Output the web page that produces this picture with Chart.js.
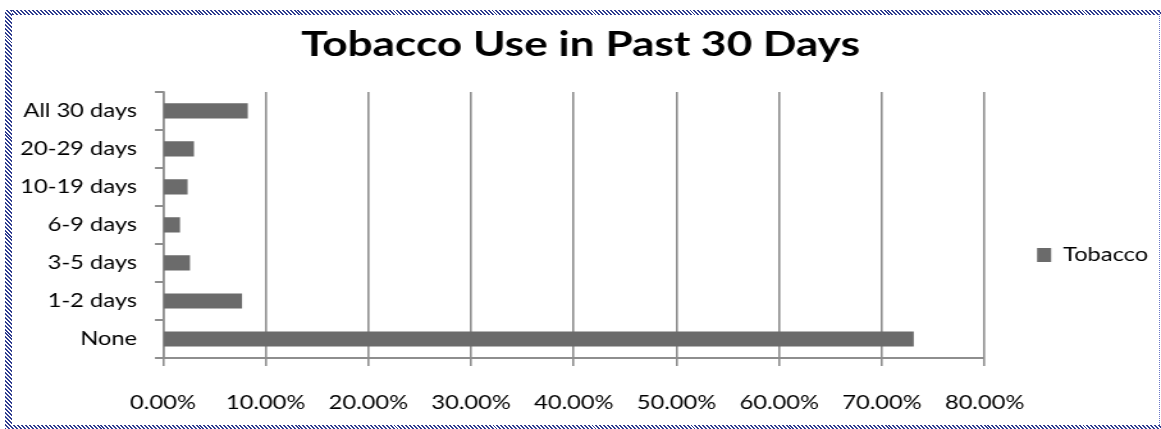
<!DOCTYPE html>
<html>
<head>
<meta charset="utf-8">
<title>Tobacco Use in Past 30 Days</title>
<script src="https://cdn.jsdelivr.net/npm/chart.js@4.4.1/dist/chart.umd.min.js"></script>
<style>
  html, body { margin: 0; padding: 0; background: #fff; }
  #frame { position: relative; width: 1161px; height: 429px; overflow: hidden; background: #fff; }
  /* the chart is laid out narrow and widened, like the stretched spreadsheet export */
  #stretch { position: absolute; left: 0; top: 0; width: 907px; height: 429px; transform: scaleX(1.28); transform-origin: 0 0; }
  .hatch { position: absolute; background: repeating-linear-gradient(45deg, #2f3d8f 0 1.4px, #ffffff 1.4px 2.8px); }
  .hatch.top { left: 5px; top: 10px; width: 1156px; height: 5px; }
  .hatch.left { left: 5px; top: 10px; width: 7px; height: 419px; }
  .hatch.bottom { left: 5px; top: 425px; width: 1156px; height: 4px; }
  .dots { position: absolute; left: 1159px; top: 10px; height: 415px; border-left: 1px dotted #6a78c8; }
</style>
</head>
<body>
<div id="frame">
  <div id="stretch"><canvas id="tobaccoChart"></canvas></div>
  <div class="hatch top"></div>
  <div class="hatch left"></div>
  <div class="hatch bottom"></div>
  <div class="dots"></div>
</div>
<script>
const categories = ["All 30 days", "20-29 days", "10-19 days", "6-9 days", "3-5 days", "1-2 days", "None"];
const tobaccoShare = [8.26, 3.02, 2.4, 1.66, 2.63, 7.7, 73.1];
const percentTicks = [0, 10, 20, 30, 40, 50, 60, 70, 80];
const seriesName = "Tobacco";
const chartTitle = "Tobacco Use in Past 30 Days";

const gridGray = "#8e8e8e";
const textColor = "#000";
const labelFont = { family: "Lato", size: 18.5 };

// push the legend down a little from the middle of the plot
const legendNudge = {
  id: "legendNudge",
  afterLayout(chart) {
    chart.legend.top += 30;
    chart.legend.bottom += 30;
  },
};

new Chart(document.getElementById("tobaccoChart"), {
  type: "bar",
  data: {
    labels: categories,
    datasets: [
      {
        label: seriesName,
        data: tobaccoShare,
        backgroundColor: "#6b6b6b",
        borderWidth: 0,
        barPercentage: 0.4,
        categoryPercentage: 1,
      },
    ],
  },
  options: {
    indexAxis: "y",
    responsive: true,
    maintainAspectRatio: false,
    animation: false,
    devicePixelRatio: 1,
    layout: { padding: { left: 0, right: 0, top: 0, bottom: 0 } },
    plugins: {
      title: {
        display: true,
        text: chartTitle,
        color: "#000",
        font: { family: "Lato", size: 34.5, weight: "bold" },
        padding: { top: 24, bottom: 26.5 },
      },
      legend: {
        position: "right",
        fullSize: false,
        labels: {
          boxWidth: 11,
          boxHeight: 14,
          padding: 41,
          color: textColor,
          font: labelFont,
        },
      },
      tooltip: { enabled: false },
    },
    scales: {
      x: {
        min: 0,
        max: 80,
        afterBuildTicks: (axis) => {
          axis.ticks = percentTicks.map((value) => ({ value }));
        },
        afterFit: (axis) => {
          axis.height = 71;
        },
        grid: { color: gridGray, lineWidth: 1.6, tickLength: 8 },
        border: { color: gridGray, width: 2 },
        ticks: {
          padding: 26,
          color: textColor,
          font: labelFont,
          maxRotation: 0,
          callback: (value) => `${Number(value).toFixed(2)}%`,
        },
      },
      y: {
        afterFit: (axis) => {
          axis.width = 127.3;
        },
        grid: { drawOnChartArea: false, offset: true, tickLength: 6.25, color: gridGray, lineWidth: 2 },
        border: { color: gridGray, width: 1.6 },
        ticks: { padding: 14, color: textColor, font: labelFont },
      },
    },
  },
  plugins: [legendNudge],
});
</script>
</body>
</html>
